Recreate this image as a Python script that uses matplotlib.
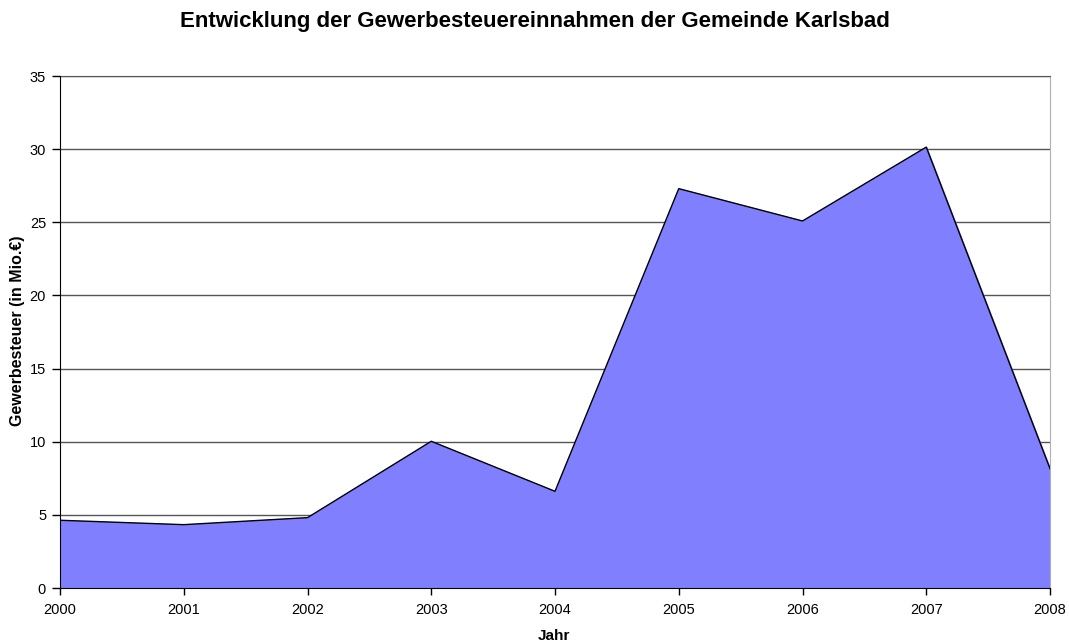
import matplotlib
matplotlib.use('Agg')
import matplotlib.pyplot as plt

# Gewerbesteuer Karlsbad, Mio. EUR
years = [2000, 2001, 2002, 2003, 2004, 2005, 2006, 2007, 2008]
tax = [4.63, 4.33, 4.81, 10.03, 6.61, 27.30, 25.09, 30.14, 8.16]
y_ticks = [0, 5, 10, 15, 20, 25, 30, 35]

plt.rcParams['font.family'] = ['Liberation Sans', 'DejaVu Sans']

W, H = 1069, 643
fig = plt.figure(figsize=(W / 100, H / 100), dpi=100)
ax = fig.add_axes([60 / W, 55 / H, 990 / W, 512 / H])

ax.fill_between(years, tax, 0, color='#8080FF', zorder=2)
ax.plot(years, tax, color='black', linewidth=1, zorder=3)

ax.set_xlim(years[0], years[-1])
ax.set_ylim(0, 35)
ax.set_xticks(years)
ax.set_yticks(y_ticks)
ax.tick_params(axis='both', direction='out', labelsize=10.5, width=1)
ax.tick_params(axis='x', length=5, pad=6)
ax.tick_params(axis='y', length=6, pad=4)
ax.yaxis.grid(True, color='#555555', linewidth=1, zorder=1)
ax.set_axisbelow(True)

for side in ('left', 'bottom'):
    ax.spines[side].set_color('black')
    ax.spines[side].set_zorder(4)
ax.spines['right'].set_color('#b0b0b0')
ax.spines['top'].set_color('#555555')

# axis titles placed like the Excel original
fig.text(554 / W, 1 - 636 / H, 'Jahr', fontsize=11, fontweight='bold',
         ha='center', va='center')
fig.text(17.5 / W, 1 - 331 / H, 'Gewerbesteuer (in Mio.€)', fontsize=11.5,
         fontweight='bold', rotation=90, ha='center', va='center')
fig.text(535 / W, 1 - 22 / H,
         'Entwicklung der Gewerbesteuereinnahmen der Gemeinde Karlsbad',
         fontsize=16, fontweight='bold', ha='center', va='center')

fig.savefig('out.png', dpi=100)
